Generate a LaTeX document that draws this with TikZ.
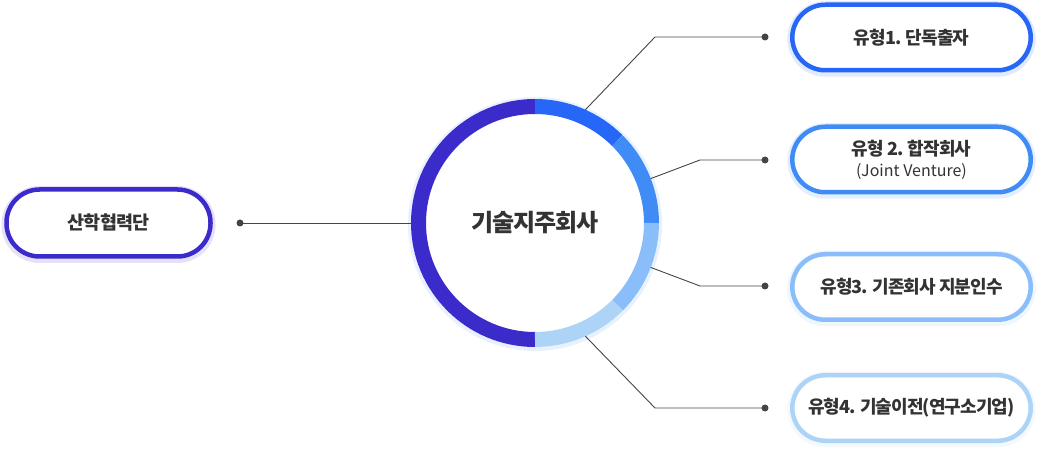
\documentclass[tikz,border=0pt]{standalone}
\usepackage{fontspec}
\setmainfont{Noto Sans CJK KR}[LetterSpace=-5]
\newfontfamily\latinf{Noto Sans CJK KR}
\definecolor{cpurple}{HTML}{3C2BCB}
\definecolor{cblueA}{HTML}{2767F7}
\definecolor{cblueB}{HTML}{3F8CF6}
\definecolor{cblueC}{HTML}{8ABEFB}
\definecolor{cblueD}{HTML}{ADD4F6}
\definecolor{ctext}{HTML}{333333}
\definecolor{cline}{HTML}{444444}
\tikzset{
  pill/.style={draw=#1, line width=4.5pt, fill=white, rounded corners=33pt,
    minimum width=238.5pt, minimum height=65.5pt, inner sep=0pt,
    text=ctext, font=\fontsize{18pt}{21pt}\selectfont\bfseries, align=center,
    preaction={draw=#1!14, line width=10pt, transform canvas={yshift=-1.5pt}}},
  dotn/.style={circle, fill=cline, minimum size=7pt, inner sep=0pt, outer sep=0pt},
  conn/.style={draw=cline, line width=0.9pt},
  ring/.style={line width=15pt, draw=#1}
}
\begin{document}
\begin{tikzpicture}[x=1pt,y=1pt]
\useasboundingbox (0,0) rectangle (1042,-454);
% hub
\fill[cblueA!10] (535,-224) circle[radius=127pt];
\fill[white] (535,-223) circle[radius=124pt];
\node[circle, minimum size=248pt, inner sep=0pt, outer sep=0pt, text=ctext,
  font=\fontsize{24pt}{28pt}\selectfont\bfseries] (hub) at (535,-223) {기술지주회사};
\draw[ring=cpurple] ([shift={(90:116.5)}]hub.center) arc[start angle=90, end angle=270, radius=116.5pt];
\draw[ring=cblueA] ([shift={(90:116.5)}]hub.center) arc[start angle=90, end angle=45, radius=116.5pt];
\draw[ring=cblueB] ([shift={(45:116.5)}]hub.center) arc[start angle=45, end angle=0, radius=116.5pt];
\draw[ring=cblueC] ([shift={(0:116.5)}]hub.center) arc[start angle=0, end angle=-45, radius=116.5pt];
\draw[ring=cblueD] ([shift={(-45:116.5)}]hub.center) arc[start angle=-45, end angle=-90, radius=116.5pt];
% left box
\node[pill=cpurple, minimum width=204pt, minimum height=67pt, font=\fontsize{18.5pt}{22pt}\selectfont\bfseries] (univ) at (108.5,-223) {산학협력단};
\node[dotn] (d0) at (240,-223) {};
\draw[conn] (d0.center) -- (hub.180);
% right boxes
\node[pill=cblueA] (t1) at (911.5,-37.5) {유형1. 단독출자};
\node[pill=cblueB] (t2) at (911.5,-159.5) {유형 2. 합작회사\\[0pt]{\latinf\fontsize{16pt}{19pt}\selectfont\mdseries (Joint Venture)}};
\node[pill=cblueC] (t3) at (911.5,-287) {유형3. 기존회사 지분인수};
\node[pill=cblueD] (t4) at (911.5,-408) {유형4. 기술이전(연구소기업)};
\node[dotn] (d1) at (765,-37) {};
\node[dotn] (d2) at (765,-160) {};
\node[dotn] (d3) at (765,-286) {};
\node[dotn] (d4) at (765,-408) {};
\coordinate (k1) at (655,-37);
\coordinate (k2) at (700,-160);
\coordinate (k3) at (700,-286);
\coordinate (k4) at (655,-408);
\draw[conn] (hub.66.5) -- (k1) -- (d1.center);
\draw[conn] (hub.21.5) -- (k2) -- (d2.center);
\draw[conn] (hub.-21.5) -- (k3) -- (d3.center);
\draw[conn] (hub.-66.5) -- (k4) -- (d4.center);
\end{tikzpicture}
\end{document}
